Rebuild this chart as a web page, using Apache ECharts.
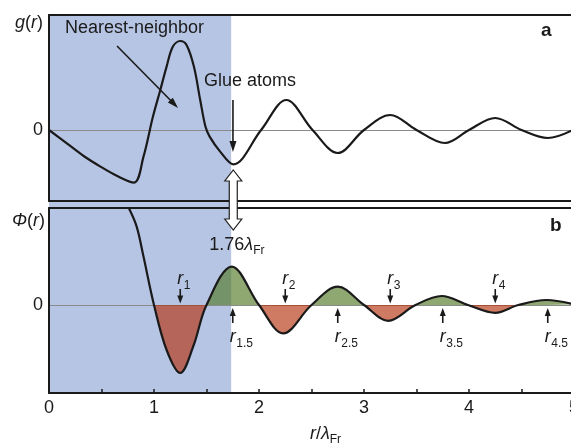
<!DOCTYPE html>
<html>
<head>
<meta charset="utf-8">
<script src="https://cdn.jsdelivr.net/npm/echarts@6/dist/echarts.min.js"></script>
<style>
html, body { margin: 0; padding: 0; background: #fff; }
#main { width: 571px; height: 443px; }
</style>
</head>
<body>
<div id="main"></div>
<script>
// panel a: g(r)
var gR   = [0, 0.17, 0.33, 0.49, 0.65, 0.81, 0.90, 0.99, 1.06, 1.12, 1.18, 1.25, 1.31, 1.38, 1.44, 1.49, 1.53, 1.63, 1.755, 2.02, 2.26, 2.51, 2.75, 3.0, 3.25, 3.5, 3.77, 4.0, 4.25, 4.5, 4.75, 5.0];
var gVal = [0, -0.67, -1.3, -1.83, -2.3, -2.63, -1.33, 0.67, 2.0, 3.17, 4.17, 4.45, 4.25, 3.17, 1.5, 0.17, -0.33, -1.08, -1.72, 0, 1.5, 0, -1.15, 0, 0.75, 0, -0.65, 0, 0.6, 0, -0.4, 0.03];

// panel b: Phi(r)
var phiR   = [0.76, 0.835, 0.90, 1.0, 1.12, 1.25, 1.375, 1.5, 1.74, 2.0, 2.23, 2.5, 2.75, 3.0, 3.23, 3.49, 3.74, 3.99, 4.25, 4.47, 4.74, 5.0];
var phiVal = [4.85, 3.92, 2.42, 0, -2.25, -3.4, -2.05, 0, 1.92, 0, -1.42, 0, 0.92, 0, -0.79, 0, 0.45, 0, -0.39, 0, 0.25, 0.03];
var fillFrom = 3; // shading starts at r = 1

// marked distances r_n
var rMarkX = [1.25, 1.75, 2.25, 2.75, 3.25, 3.75, 4.25, 4.75];
var rSubs  = ['1', '1.5', '2', '2.5', '3', '3.5', '4', '4.5'];

var shadeEnd = 1.735;
var xTicks = [0, 1, 2, 3, 4, 5];

var FONT = '"Liberation Sans", Arial, sans-serif';
var INK = '#1a1a1a';

function pairs(xs, ys) {
    var res = [];
    for (var i = 0; i < xs.length; i++) res.push([xs[i], ys[i]]);
    return res;
}

function arrowHead(tip, dx, dy, len, half) {
    var bx = tip[0] - dx * len, by = tip[1] - dy * len;
    return [[tip[0], tip[1]], [bx - dy * half, by + dx * half], [bx + dy * half, by - dx * half]];
}

function renderPointer(params, api) {
    var a = api.coord([api.value(0), api.value(1)]);
    var b = api.coord([api.value(2), api.value(3)]);
    var dx = b[0] - a[0], dy = b[1] - a[1];
    var L = Math.sqrt(dx * dx + dy * dy);
    dx /= L; dy /= L;
    return {
        type: 'group',
        children: [
            { type: 'line', shape: { x1: a[0], y1: a[1], x2: b[0] - dx * 8, y2: b[1] - dy * 8 },
              style: { stroke: INK, lineWidth: 1.6 } },
            { type: 'polygon', shape: { points: arrowHead(b, dx, dy, 11, 3.5) }, style: { fill: INK } }
        ]
    };
}

function renderRMark(params, api) {
    var i = api.value(1);
    var p = api.coord([api.value(0), 0]);
    var down = i % 2 === 0;
    var s = down ? -1 : 1;
    var tip = [p[0], p[1] + s * (down ? 1.5 : 3)];
    var tail = [p[0], p[1] + s * (down ? 16 : 18)];
    var ty = p[1] + s * (down ? 26 : 32);
    return {
        type: 'group',
        children: [
            { type: 'line', shape: { x1: tail[0], y1: tail[1], x2: tip[0], y2: tip[1] + s * 6 },
              style: { stroke: INK, lineWidth: 1.6 } },
            { type: 'polygon', shape: { points: arrowHead(tip, 0, -s, 8, 3) }, style: { fill: INK } },
            { type: 'text', style: { text: 'r', x: p[0], y: ty, font: 'italic 18px ' + FONT,
              textAlign: 'center', textVerticalAlign: 'middle', fill: INK } },
            { type: 'text', style: { text: rSubs[i], x: p[0] + 3.5, y: ty + 6.5, font: '12px ' + FONT,
              textAlign: 'left', textVerticalAlign: 'middle', fill: INK } }
        ]
    };
}

function renderGap(params, api) {
    var t = api.coord([api.value(0), api.value(1)]);
    var b = api.coord([api.value(0), api.value(2)]);
    var lab = api.coord([api.value(3), api.value(4)]);
    var cx = t[0], hw = 8.5, sw = 4, hl = 11;
    var pts = [[cx, t[1]], [cx + hw, t[1] + hl], [cx + sw, t[1] + hl], [cx + sw, b[1] - hl], [cx + hw, b[1] - hl],
               [cx, b[1]], [cx - hw, b[1] - hl], [cx - sw, b[1] - hl], [cx - sw, t[1] + hl], [cx - hw, t[1] + hl]];
    return {
        type: 'group',
        children: [
            { type: 'polygon', shape: { points: pts }, style: { fill: '#fff', stroke: '#222', lineWidth: 1.2 } },
            { type: 'text', style: {
                text: '{n|1.76}{l|λ}{s|Fr}', x: lab[0], y: lab[1],
                textAlign: 'center', textVerticalAlign: 'middle',
                rich: {
                    n: { fontSize: 18, fontFamily: FONT, lineHeight: 24, verticalAlign: 'middle', fill: INK },
                    l: { fontSize: 18, fontFamily: FONT, fontStyle: 'italic', lineHeight: 24, verticalAlign: 'middle', fill: INK },
                    s: { fontSize: 12, fontFamily: FONT, lineHeight: 12, verticalAlign: 'bottom', fill: INK }
                }
            } }
        ]
    };
}

var dom = document.getElementById('main');
var myChart = echarts.init(dom, null, { renderer: 'canvas' });

function plainTitle(text, left, top, extra) {
    var t = {
        text: text, left: left, top: top, padding: 0,
        textStyle: { fontSize: 18, fontWeight: 'normal', color: INK, fontFamily: FONT, lineHeight: 20,
            rich: { i: { fontSize: 18, fontStyle: 'italic', color: INK, fontFamily: FONT, lineHeight: 20 } } }
    };
    if (extra) for (var k in extra) t.textStyle[k] = extra[k];
    return t;
}

var borderAxis = function (grid, pos) {
    return {
        type: 'value', gridIndex: grid, position: pos, min: 0, max: 5, z: 3,
        axisLine: { show: true, onZero: false, lineStyle: { color: INK, width: 2 } },
        axisTick: { show: false }, axisLabel: { show: false }, splitLine: { show: false }
    };
};

var option = {
    animation: false,
    backgroundColor: '#fff',
    title: [
        plainTitle('{i|g}({i|r})', 15, 13),
        plainTitle('{i|Φ}({i|r})', 12, 211),
        plainTitle('Nearest-neighbor', 65, 18),
        plainTitle('Glue atoms', 204, 71),
        plainTitle('a', 541, 21, { fontWeight: 'bold', fontSize: 19 }),
        plainTitle('b', 550, 216, { fontWeight: 'bold', fontSize: 19 })
    ],
    grid: [
        { left: 49, top: 15, width: 525, height: 186, outerBoundsMode: 'none' },
        { left: 49, top: 208, width: 525, height: 185, outerBoundsMode: 'none' },
        { left: 49, top: 15, width: 525, height: 378, outerBoundsMode: 'none' }
    ],
    xAxis: [
        borderAxis(0, 'top'),
        borderAxis(0, 'bottom'),
        borderAxis(1, 'top'),
        {
            type: 'value', gridIndex: 1, position: 'bottom', min: 0, max: 5, interval: 0.5, z: 3,
            axisLine: { show: true, onZero: false, lineStyle: { color: INK, width: 2 } },
            axisTick: { show: true, inside: true, length: 4, lineStyle: { color: INK, width: 1.5 } },
            axisLabel: {
                show: true, margin: 6, fontSize: 18, color: INK, fontFamily: FONT, showMaxLabel: true,
                formatter: function (v) { return xTicks.indexOf(v) >= 0 ? String(v) : ''; }
            },
            splitLine: { show: false },
            name: '{i|r}{n|/}{i|λ}{s|Fr}',
            nameLocation: 'middle',
            nameGap: 29,
            nameTextStyle: {
                padding: [0, 0, 0, 28],
                rich: {
                    i: { fontSize: 18, fontStyle: 'italic', fontFamily: FONT, color: INK, lineHeight: 24, verticalAlign: 'middle' },
                    n: { fontSize: 18, fontFamily: FONT, color: INK, lineHeight: 24, verticalAlign: 'middle' },
                    s: { fontSize: 12, fontFamily: FONT, color: INK, lineHeight: 12, verticalAlign: 'bottom' }
                }
            }
        },
        { type: 'value', gridIndex: 2, min: 0, max: 5, show: false }
    ],
    yAxis: [
        {
            type: 'value', gridIndex: 0, min: -3.55, max: 5.75, z: 3,
            axisLine: { show: true, lineStyle: { color: INK, width: 2 } },
            axisTick: { show: false }, splitLine: { show: false },
            axisLabel: { customValues: [0], margin: 6, fontSize: 18, color: INK, fontFamily: FONT }
        },
        {
            type: 'value', gridIndex: 1, min: -4.4, max: 4.85, z: 3,
            axisLine: { show: true, lineStyle: { color: INK, width: 2 } },
            axisTick: { show: false }, splitLine: { show: false },
            axisLabel: { customValues: [0], margin: 6, fontSize: 18, color: INK, fontFamily: FONT }
        },
        { type: 'value', gridIndex: 2, min: -4.4, max: 14.5, show: false }
    ],
    visualMap: [{
        type: 'piecewise', show: false, seriesIndex: 1, dimension: 1,
        pieces: [
            { gte: -10, lt: 0, color: 'rgba(180,47,10,0.64)' },
            { gte: 0, lte: 10, color: 'rgba(80,119,35,0.64)' }
        ]
    }],
    series: [
        {
            name: 'g', type: 'line', xAxisIndex: 0, yAxisIndex: 0, z: 3,
            data: pairs(gR, gVal), smooth: 0.35, symbol: 'none',
            lineStyle: { color: INK, width: 2.2 },
            markLine: {
                silent: true, symbol: 'none', z: 1, label: { show: false },
                lineStyle: { color: '#8a8a8a', width: 1, type: 'solid' },
                data: [{ yAxis: 0 }]
            }
        },
        {
            name: 'phiFill', type: 'line', xAxisIndex: 3, yAxisIndex: 1, z: 2,
            data: pairs(phiR.slice(fillFrom), phiVal.slice(fillFrom)), smooth: 0.35, symbol: 'none',
            lineStyle: { width: 0 },
            areaStyle: { opacity: 1 },
            markLine: {
                silent: true, symbol: 'none', z: 1, label: { show: false },
                lineStyle: { color: '#8a8a8a', width: 1, type: 'solid' },
                data: [{ yAxis: 0 }]
            }
        },
        {
            name: 'phi', type: 'line', xAxisIndex: 3, yAxisIndex: 1, z: 3,
            data: pairs(phiR, phiVal), smooth: 0.35, symbol: 'none',
            lineStyle: { color: INK, width: 2.2 }
        },
        {
            name: 'shade', type: 'line', xAxisIndex: 4, yAxisIndex: 2, z: 0,
            data: [[0, 0]], symbol: 'none', showSymbol: false, lineStyle: { opacity: 0 },
            markArea: {
                silent: true, z: 0,
                itemStyle: { color: 'rgba(124,150,206,0.55)' },
                data: [[{ xAxis: 0 }, { xAxis: shadeEnd }]]
            }
        },
        {
            name: 'pointers', type: 'custom', coordinateSystem: 'cartesian2d', xAxisIndex: 0, yAxisIndex: 0, z: 5,
            renderItem: renderPointer,
            data: [[0.648, 4.2, 1.229, 1.1], [1.752, 1.5, 1.752, -1.1]]
        },
        {
            name: 'rmarks', type: 'custom', coordinateSystem: 'cartesian2d', xAxisIndex: 3, yAxisIndex: 1, z: 5,
            renderItem: renderRMark,
            data: rMarkX.map(function (x, i) { return [x, i]; })
        },
        {
            name: 'gap', type: 'custom', coordinateSystem: 'cartesian2d', xAxisIndex: 4, yAxisIndex: 2, z: 6,
            renderItem: renderGap,
            data: [[1.755, 6.75, 3.75, 1.79, 3.0]]
        }
    ]
};

myChart.setOption(option, true);
</script>
</body>
</html>
